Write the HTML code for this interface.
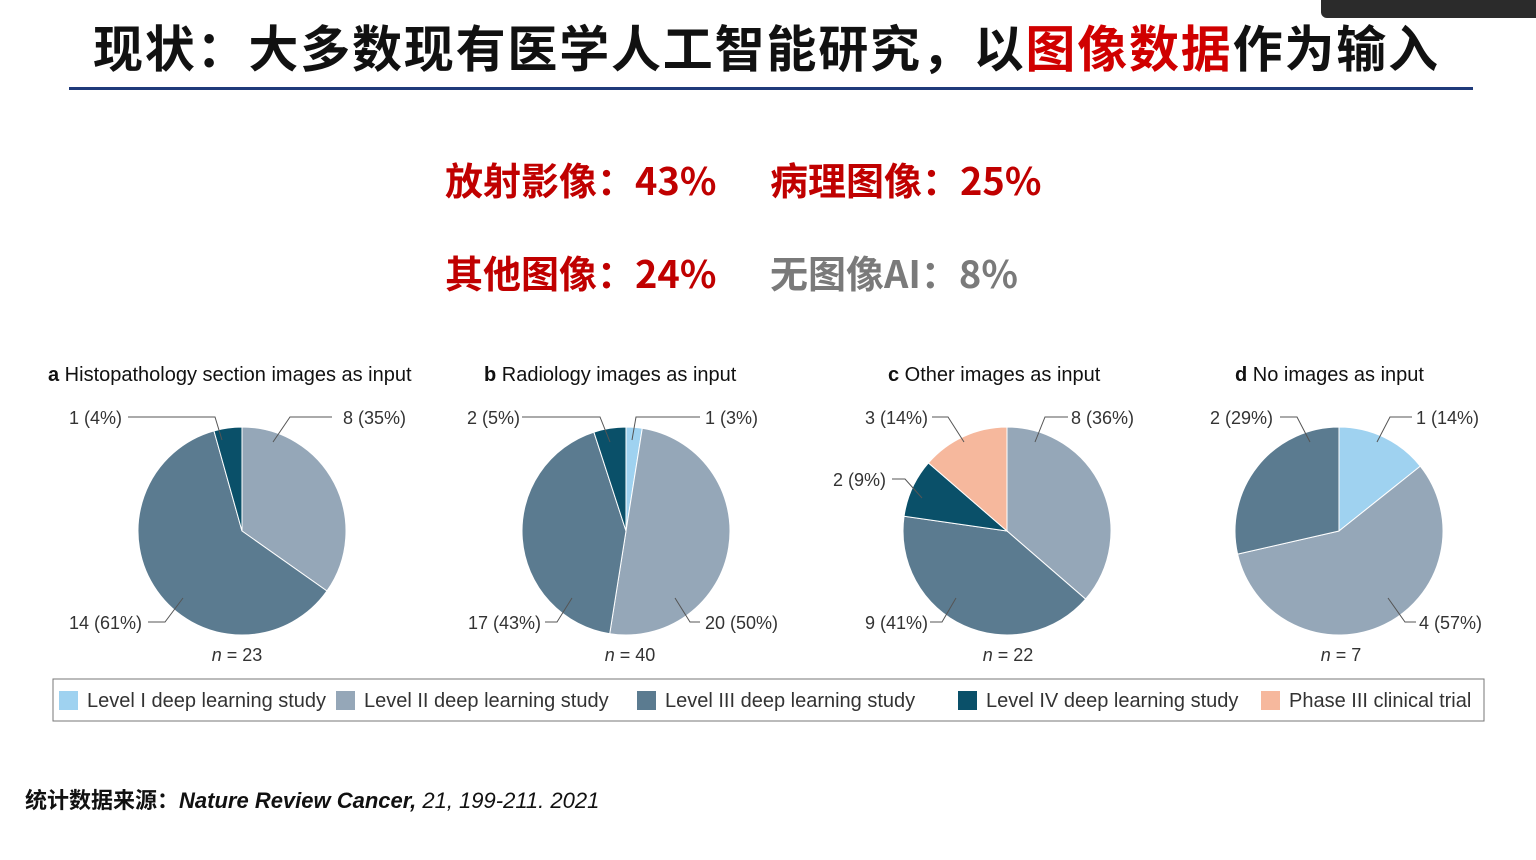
<!DOCTYPE html>
<html><head><meta charset="utf-8"><style>
body{margin:0;width:1536px;height:860px;background:#fff;overflow:hidden;position:relative;font-family:"Liberation Sans","Noto Sans CJK SC",sans-serif}
.t{position:absolute;white-space:nowrap}
</style></head><body>
<div class="t" style="left:1321px;top:-6px;width:230px;height:24px;background:#2b2b2b;border-radius:6px"></div>
<div class="t" style="left:93px;top:10px;font-size:50px;font-weight:bold;color:#111;letter-spacing:1.8px;font-family:'Noto Sans CJK SC',sans-serif">现状：大多数现有医学人工智能研究，以<span style="color:#d00000">图像数据</span>作为输入</div>
<div style="position:absolute;left:69px;top:87px;width:1404px;height:3px;background:#1f3a7a"></div>
<div class="t" style="left:445px;top:151px;font-size:38px;font-weight:bold;color:#c00000;font-family:'Noto Sans CJK SC',sans-serif">放射影像：43%</div>
<div class="t" style="left:770px;top:151px;font-size:38px;font-weight:bold;color:#c00000;font-family:'Noto Sans CJK SC',sans-serif">病理图像：25%</div>
<div class="t" style="left:445px;top:244px;font-size:38px;font-weight:bold;color:#c00000;font-family:'Noto Sans CJK SC',sans-serif">其他图像：24%</div>
<div class="t" style="left:770px;top:244px;font-size:38px;font-weight:bold;color:#7a7a7a;font-family:'Noto Sans CJK SC',sans-serif">无图像AI：8%</div>
<svg id="ch" width="1536" height="860" style="position:absolute;left:0;top:0" font-family="'Liberation Sans',sans-serif" font-size="18" fill="#333">
<g font-size="20" fill="#111">
<text x="48" y="381"><tspan font-weight="bold">a</tspan>  Histopathology section images as input</text>
<text x="484" y="381"><tspan font-weight="bold">b</tspan>  Radiology images as input</text>
<text x="888" y="381"><tspan font-weight="bold">c</tspan>  Other images as input</text>
<text x="1235" y="381"><tspan font-weight="bold">d</tspan>  No images as input</text>
</g>
<g id="pies"></g>
<g stroke="#555" stroke-width="1" fill="none">
<path d="M128 417H215L222 440M332 417H290L273 442M148 622H165L183 598"/>
<path d="M522 417H600L610 442M700 417H636L632 440M545 622H557L572 598M700 622H690L675 598"/>
<path d="M932 417H948L964 442M1068 417H1045L1035 442M892 479H905L922 498M930 622H942L956 598"/>
<path d="M1280 417H1297L1310 442M1412 417H1390L1377 442M1416 622H1405L1388 598"/>
</g>
<g fill="#333">
<text x="69" y="424">1 (4%)</text><text x="343" y="424">8 (35%)</text><text x="69" y="629">14 (61%)</text>
<text x="467" y="424">2 (5%)</text><text x="705" y="424">1 (3%)</text><text x="468" y="629">17 (43%)</text><text x="705" y="629">20 (50%)</text>
<text x="865" y="424">3 (14%)</text><text x="1071" y="424">8 (36%)</text><text x="833" y="486">2 (9%)</text><text x="865" y="629">9 (41%)</text>
<text x="1210" y="424">2 (29%)</text><text x="1416" y="424">1 (14%)</text><text x="1419" y="629">4 (57%)</text>
<text x="237" y="661" text-anchor="middle"><tspan font-style="italic">n</tspan> = 23</text>
<text x="630" y="661" text-anchor="middle"><tspan font-style="italic">n</tspan> = 40</text>
<text x="1008" y="661" text-anchor="middle"><tspan font-style="italic">n</tspan> = 22</text>
<text x="1341" y="661" text-anchor="middle"><tspan font-style="italic">n</tspan> = 7</text>
</g>
<rect x="53" y="679" width="1431" height="42" fill="none" stroke="#777"/>
<g id="legend" font-size="20"></g>
</svg>
<div class="t" style="left:25px;top:783px;font-size:22px;font-weight:bold;color:#111;font-family:'Noto Sans CJK SC',sans-serif">统计数据来源：<i style="font-family:'Liberation Sans',sans-serif">Nature Review Cancer, <span style="font-weight:normal">21, 199-211. 2021</span></i></div>
<script>
const categories=["Level I deep learning study","Level II deep learning study","Level III deep learning study","Level IV deep learning study","Phase III clinical trial"];
const colors=["#9fd2f0","#95a7b8","#5b7b90","#0a5069","#f6b89d"];
const pieA=[0,8,14,1,0];
const pieB=[1,20,17,2,0];
const pieC=[0,8,9,2,3];
const pieD=[1,4,2,0,0];
const pies=[pieA,pieB,pieC,pieD];
const cx=[242,626,1007,1339];
const legendX=[59,336,637,958,1261];
const NS="http://www.w3.org/2000/svg";
const g=document.getElementById('pies');
const R=104,CY=531;
pies.forEach((vals,pi)=>{
  const tot=vals.reduce((a,b)=>a+b,0);let acc=0;
  vals.forEach((v,i)=>{
    if(!v)return;
    const a0=acc/tot*2*Math.PI;acc+=v;const a1=acc/tot*2*Math.PI;
    const x0=cx[pi]+R*Math.sin(a0),y0=CY-R*Math.cos(a0),x1=cx[pi]+R*Math.sin(a1),y1=CY-R*Math.cos(a1);
    const p=document.createElementNS(NS,'path');
    p.setAttribute('d',`M${cx[pi]} ${CY}L${x0} ${y0}A${R} ${R} 0 ${a1-a0>Math.PI?1:0} 1 ${x1} ${y1}Z`);
    p.setAttribute('fill',colors[i]);p.setAttribute('stroke','#fff');p.setAttribute('stroke-width','1');
    
    
    g.appendChild(p);
  });
});
const lg=document.getElementById('legend');
categories.forEach((c,i)=>{
  const r=document.createElementNS(NS,'rect');
  r.setAttribute('x',legendX[i]);r.setAttribute('y',691);r.setAttribute('width',19);r.setAttribute('height',19);r.setAttribute('fill',colors[i]);
  
  
  lg.appendChild(r);
  const t=document.createElementNS(NS,'text');
  t.setAttribute('x',legendX[i]+28);t.setAttribute('y',707);t.textContent=c;
  
  
  lg.appendChild(t);
});
</script>
</body></html>
